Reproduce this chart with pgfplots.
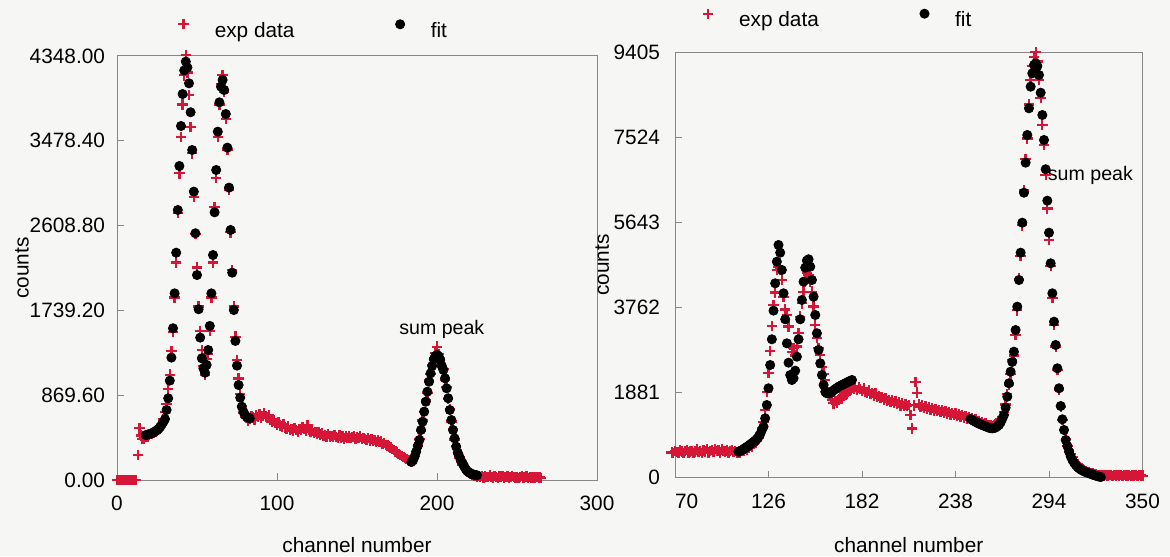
\documentclass[border=0pt]{standalone}
\usepackage{fontspec}
\setmainfont{Liberation Sans}
\usepackage{pgfplots}
\usepackage{pgfplotstable}
\pgfplotsset{compat=1.18}
\definecolor{expred}{RGB}{214,22,55}
\definecolor{axgray}{RGB}{135,135,135}
\definecolor{bg}{RGB}{246,246,245}

\pgfplotstableread{
x y
0 0
1 0
2 0
3 0
4 0
5 0
6 0
7 0
8 0
9 0
10 0
11 0
12 0
13 256
14 530
15 455
16 420
17 425
18 440
19 445
20 460
21 470
22 472
23 488
24 498
25 505
26 520
27 548
28 575
29 620
30 700
31 780
32 930
33 1080
34 1320
35 1520
36 1870
37 2230
38 2735
39 3145
40 3520
41 3850
42 4150
43 4358
44 4180
45 3950
46 3620
47 3350
48 2900
49 2520
50 2180
51 1780
52 1530
53 1330
54 1170
55 1080
56 1240
57 1290
58 1530
59 1870
60 2230
61 2800
62 3100
63 3520
64 3850
65 4060
66 4150
67 3980
68 3700
69 3390
70 2980
71 2540
72 2150
73 1780
74 1470
75 1230
76 1040
77 880
78 760
79 690
80 650
81 640
82 612
83 628
84 655
85 640
86 622
87 660
88 648
89 675
90 640
91 658
92 690
93 652
94 638
95 660
96 615
97 598
98 610
99 585
100 570
101 590
102 560
103 548
104 575
105 540
106 530
107 552
108 515
109 522
110 505
111 535
112 510
113 498
114 525
115 512
116 540
117 520
118 505
119 560
120 510
121 490
122 505
123 480
124 495
125 472
126 488
127 465
128 478
129 450
130 462
131 445
132 470
133 448
134 452
135 438
136 460
137 442
138 430
139 455
140 436
141 448
142 425
143 445
144 432
145 450
146 428
147 440
148 445
149 420
150 438
151 432
152 445
153 418
154 430
155 422
156 410
157 428
158 405
159 418
160 400
161 410
162 392
163 405
164 388
165 395
166 372
167 380
168 360
169 352
170 345
171 332
172 320
173 305
174 292
175 280
176 268
177 255
178 245
179 238
180 225
181 218
182 208
183 200
184 190
185 205
186 245
187 290
188 355
189 420
190 505
191 610
192 700
193 815
194 895
195 1020
196 1085
197 1180
198 1250
199 1300
200 1367
201 1290
202 1245
203 1160
204 1140
205 1030
206 955
207 830
208 730
209 600
210 525
211 415
212 350
213 272
214 230
215 190
216 160
217 130
218 105
219 85
220 70
221 60
222 50
223 45
224 40
225 35
226 42
227 30
228 38
229 25
230 40
231 32
232 28
233 45
234 30
235 25
236 38
237 30
238 22
239 35
240 28
241 40
242 25
243 30
244 35
245 22
246 30
247 40
248 28
249 25
250 33
251 20
252 30
253 38
254 25
255 28
256 35
257 22
258 30
259 26
260 32
261 24
262 30
263 28
264 25
265 20
}\leftexp

\pgfplotstableread{
x y
18 461
19 465
20 470
21 475
22 480
23 490
24 500
25 510
26 525
27 545
28 570
29 595
30 625
31 718
32 838
33 1019
34 1255
35 1556
36 1914
37 2331
38 2769
39 3220
40 3630
41 3958
42 4200
43 4290
44 4230
45 4068
46 3771
47 3384
48 2957
49 2530
50 2102
51 1751
52 1460
53 1248
54 1146
55 1100
56 1180
57 1333
58 1580
59 1914
60 2307
61 2745
62 3179
63 3572
64 3873
65 4034
66 4102
67 3999
68 3753
69 3408
70 2998
71 2564
72 2126
73 1743
74 1426
75 1173
76 974
77 844
78 752
79 700
80 667
81 650
82 640
83 632
}\leftfitA

\pgfplotstableread{
x y
184 185
185 200
186 240
187 291
188 350
189 410
190 513
191 598
192 701
193 803
194 906
195 1008
196 1094
197 1170
198 1238
199 1270
200 1282
201 1270
202 1230
203 1170
204 1128
205 1043
206 940
207 838
208 718
209 615
210 513
211 427
212 342
213 280
214 239
215 200
216 171
217 140
218 109
219 90
220 78
221 68
222 60
223 55
224 51
225 48
}\leftfitB

\pgfplotstableread{
x y
68 560
69 545
70 590
71 570
72 555
73 600
74 575
75 540
76 585
77 610
78 560
79 575
80 595
81 550
82 580
83 620
84 565
85 590
86 545
87 600
88 575
89 630
90 560
91 590
92 610
93 570
94 640
95 585
96 600
97 560
98 620
99 590
100 575
101 605
102 560
103 595
104 615
105 570
106 590
107 555
108 540
109 560
110 585
111 600
112 640
113 620
114 660
115 700
116 690
117 740
118 780
119 810
120 870
121 980
122 1100
123 1238
124 1500
125 1901
126 2318
127 2800
128 3355
129 3818
130 4092
131 4592
132 4665
133 4600
134 4372
135 4002
136 3720
137 3597
138 3340
139 2935
140 2786
141 2860
142 2700
143 2900
144 3200
145 3560
146 3855
147 4113
148 4334
149 4530
150 4480
151 4330
152 4113
153 3782
154 3376
155 3082
156 2860
157 2713
158 2455
159 2300
160 2160
161 1976
162 1880
163 1800
164 1718
165 1644
166 1700
167 1650
168 1720
169 1780
170 1750
171 1820
172 1900
173 1860
174 1950
175 1920
176 1990
177 1960
178 2010
179 1945
180 1990
181 1960
182 1920
183 1975
184 1900
185 1880
186 1930
187 1850
188 1870
189 1820
190 1860
191 1790
192 1810
193 1760
194 1790
195 1730
196 1760
197 1700
198 1720
199 1680
200 1710
201 1650
202 1690
203 1630
204 1660
205 1600
206 1640
207 1590
208 1620
209 1580
210 1610
211 1380
212 1090
213 1600
214 2120
215 1880
216 1620
217 1560
218 1600
219 1540
220 1580
221 1520
222 1560
223 1500
224 1540
225 1490
226 1520
227 1470
228 1500
229 1450
230 1490
231 1440
232 1470
233 1420
234 1450
235 1400
236 1430
237 1390
238 1420
239 1370
240 1400
241 1350
242 1380
243 1330
244 1360
245 1310
246 1340
247 1300
248 1320
249 1270
250 1290
251 1240
252 1260
253 1210
254 1220
255 1190
256 1200
257 1170
258 1160
259 1150
260 1140
261 1170
262 1190
263 1210
264 1250
265 1290
266 1340
267 1450
268 1620
269 1850
270 2050
271 2300
272 2600
273 2700
274 3150
275 3700
276 4400
277 4900
278 5580
279 6350
280 7050
281 7500
282 8250
283 8800
284 9100
285 9300
286 9405
287 9200
288 8800
289 8400
290 7800
291 7350
292 6700
293 5950
294 5250
295 4680
296 3980
297 3380
298 2900
299 2380
300 1940
301 1560
302 1280
303 1050
304 850
305 700
306 600
307 520
308 450
309 380
310 330
311 290
312 250
313 220
314 190
315 170
316 150
317 130
318 115
319 100
320 90
321 80
322 70
323 65
324 60
325 55
326 60
327 50
328 65
329 45
330 55
331 60
332 40
333 55
334 50
335 65
336 45
337 55
338 40
339 60
340 50
341 45
342 58
343 40
344 52
345 48
346 60
347 42
348 55
349 50
350 45
}\rightexp

\pgfplotstableread{
x y
108 575
109 590
110 610
111 630
112 655
113 680
114 705
115 735
116 760
117 790
118 820
119 855
120 900
121 960
122 1050
123 1128
124 1313
125 1607
126 1977
127 2491
128 3060
129 3693
130 4298
131 4776
132 5145
133 4975
134 4592
135 4077
136 3502
137 2971
138 2543
139 2270
140 2160
141 2200
142 2366
143 2675
144 3060
145 3502
146 3929
147 4334
148 4643
149 4800
150 4829
151 4665
152 4371
153 4002
154 3597
155 3193
156 2824
157 2529
158 2270
159 2050
160 1900
161 1866
162 1860
163 1870
164 1901
165 1930
166 1960
167 1985
168 2012
169 2030
170 2050
171 2068
172 2087
173 2105
174 2125
175 2142
176 2160
}\rightfitA

\pgfplotstableread{
x y
247 1300
248 1276
249 1255
250 1235
251 1215
252 1195
253 1180
254 1165
255 1150
256 1135
257 1120
258 1105
259 1095
260 1092
261 1095
262 1110
263 1135
264 1165
265 1220
266 1300
267 1386
268 1550
269 1791
270 2087
271 2344
272 2560
273 2786
274 3265
275 3781
276 4371
277 4975
278 5638
279 6301
280 6965
281 7577
282 8167
283 8645
284 8941
285 9125
286 9162
287 9100
288 8904
289 8512
290 8019
291 7466
292 6819
293 6125
294 5417
295 4740
296 4077
297 3449
298 2934
299 2419
300 1977
301 1585
302 1291
303 1055
304 834
305 700
306 575
307 470
308 391
309 330
310 280
311 240
312 208
313 180
314 160
315 140
316 125
317 110
318 97
319 85
320 70
321 55
322 45
323 35
324 22
325 15
}\rightfitB

\pgfplotsset{
  myaxis/.style={
    scale only axis,
    anchor=south west,
    clip=false,
    axis line style={axgray, line width=0.5pt},
    tick style={axgray, line width=0.5pt},
    tick align=inside,
    xtick pos=bottom, ytick pos=left,
    major tick length=3.5pt,
    tick label style={font=\fontsize{10.4}{12}\selectfont, text=black},
    label style={font=\fontsize{10.4}{12}\selectfont},
    scaled ticks=false,
    xticklabel shift=4.5pt,
    legend cell align=left,
    legend style={draw=none, fill=none, inner sep=0pt, legend columns=2,
      font=\fontsize{10.4}{12}\selectfont, anchor=west,
      nodes={inner sep=0pt},
      /tikz/every odd column/.append style={column sep=13pt},
      /tikz/every even column/.append style={column sep=50.5pt}},
  },
  expstyle/.style={only marks, mark=+, mark size=2.6pt, color=expred, line width=1.15pt,
    legend image code/.code={\draw[##1] plot coordinates {(0pt,3.5pt)};}},
  fitstyle/.style={only marks, mark=*, mark size=2.3pt, color=black,
    legend image code/.code={\draw[##1] plot coordinates {(0pt,3.5pt)};}},
}

\begin{document}
\begin{tikzpicture}
\fill[bg] (0pt,0pt) rectangle (585pt,278pt);
\path[use as bounding box] (0pt,0pt) rectangle (585pt,278pt);

\begin{axis}[myaxis,
  at={(58.5pt,38pt)}, width=240pt, height=212pt,
  xmin=0, xmax=300, ymin=0, ymax=4348,
  xtick={0,100,200,300},
  xticklabels={0,100,200,300},
  ytick={0,869.6,1739.2,2608.8,3478.4,4348},
  yticklabels={0.00,869.60,1739.20,2608.80,3478.40,4348.00},
  yticklabel shift=2.5pt,
  xlabel={channel number}, ylabel={counts},
  xlabel style={at={(axis description cs:0.5,-0.153)}, anchor=center},
  ylabel style={at={(axis description cs:-0.198,0.5)}, anchor=center},
  legend style={at={(axis description cs:0.127,1.062)}},
]
\addplot[expstyle] table[x=x,y=y] {\leftexp};
\addlegendentry{exp data}
\addplot[fitstyle] table[x=x,y=y] {\leftfitA};
\addlegendentry{fit}
\addplot[fitstyle, forget plot] table[x=x,y=y] {\leftfitB};
\node[font=\fontsize{9.8}{11}\selectfont, anchor=center] at (axis cs:203,1548) {sum peak};
\end{axis}

\begin{axis}[myaxis,
  at={(337.5pt,39.15pt)}, width=233.75pt, height=212.7pt,
  xmin=70, xmax=350, ymin=0, ymax=9405,
  xtick={70,126,182,238,294,350},
  xticklabels={\makebox[0pt][l]{70},126,182,238,294,350},
  ytick={0,1881,3762,5643,7524,9405},
  yticklabels={0,1881,3762,5643,7524,9405},
  yticklabel shift=4pt,
  xlabel={channel number}, ylabel={counts},
  xlabel style={at={(axis description cs:0.5,-0.158)}, anchor=center},
  ylabel style={at={(axis description cs:-0.1555,0.5)}, anchor=center},
  legend style={at={(axis description cs:0.0584,1.078)}},
]
\addplot[expstyle] table[x=x,y=y] {\rightexp};
\addlegendentry{exp data}
\addplot[fitstyle] table[x=x,y=y] {\rightfitA};
\addlegendentry{fit}
\addplot[fitstyle, forget plot] table[x=x,y=y] {\rightfitB};
\node[font=\fontsize{9.8}{11}\selectfont, anchor=west, inner sep=0pt] at (axis cs:293.1,6682) {sum peak};
\end{axis}
\end{tikzpicture}
\end{document}
